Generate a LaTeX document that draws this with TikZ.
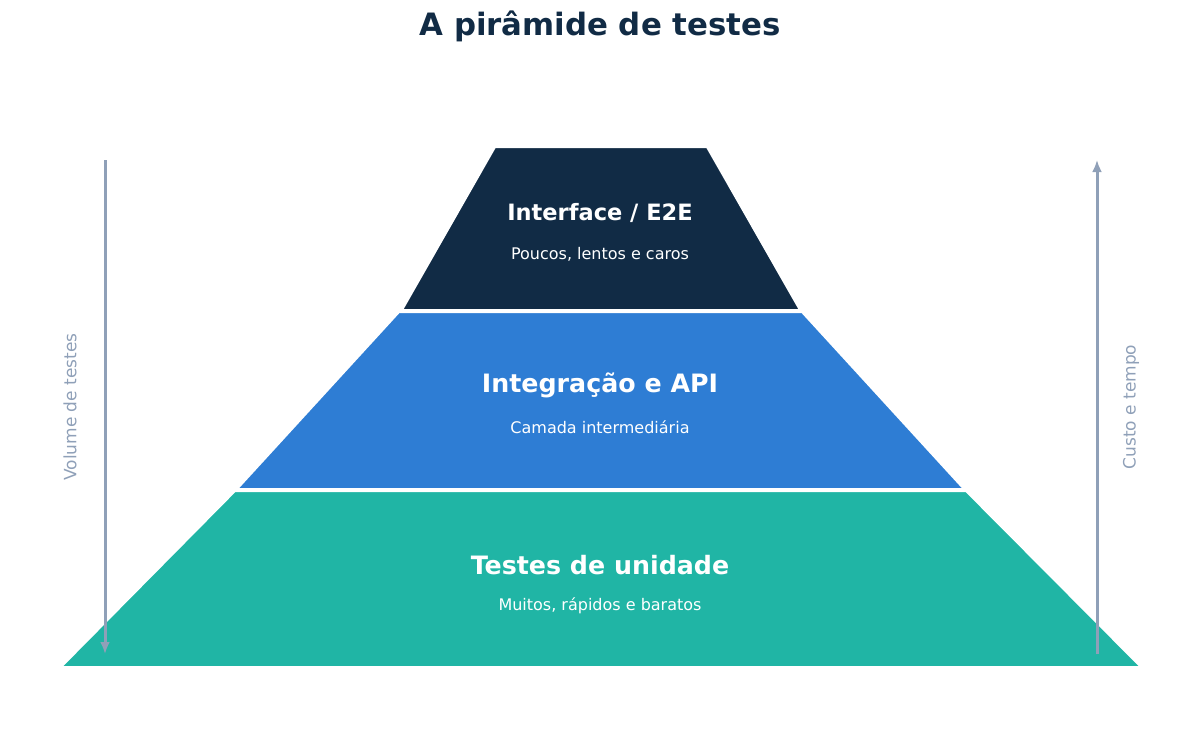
\documentclass[tikz,border=0pt]{standalone}
\usepackage{fontspec}
\setmainfont{DejaVu Sans}
\usetikzlibrary{arrows.meta, positioning}

\definecolor{navy}{HTML}{112B45}
\definecolor{azul}{HTML}{2E7DD4}
\definecolor{verde}{HTML}{20B5A5}
\definecolor{cinza}{HTML}{8FA0B8}

\begin{document}
\begin{tikzpicture}[
  x=1pt, y=-1pt,
  camada/.style={draw=white, line width=2pt, line join=miter},
  nome/.style={text=white, font=\fontsize{22.5}{26}\selectfont\bfseries, inner sep=0pt},
  desc/.style={text=white, font=\fontsize{16}{19}\selectfont, inner sep=0pt},
  eixo/.style={text=cinza, font=\fontsize{17}{20}\selectfont, inner sep=0pt, rotate=90},
  seta/.style={draw=cinza, line width=3pt, -{Latex[length=12pt, width=10pt]}},
  >=Latex
]
\useasboundingbox (0,0) rectangle (1200,747);
% titulo
\node[text=navy, font=\fontsize{30.8}{35}\selectfont\bfseries, inner sep=0pt] (titulo) at (600,26) {A pirâmide de testes};
% camadas da piramide
\fill[verde, camada] (235,491) -- (966,491) -- (1141,667) -- (61,667) -- cycle;
\fill[azul, camada] (399,312) -- (802,312) -- (964,489) -- (237,489) -- cycle;
\fill[navy, camada] (495,147) -- (707,147) -- (800,310) -- (402,310) -- cycle;
% textos
\node[nome] (e2e) at (600,213) {Interface / E2E};
\node[desc, below=41pt of e2e.center, anchor=center] (e2eDesc) {Poucos, lentos e caros};
\node[nome, font=\fontsize{25.3}{30}\selectfont\bfseries] (api) at (600,385) {Integração e API};
\node[desc, below=42pt of api.center, anchor=center] (apiDesc) {Camada intermediária};
\node[nome, font=\fontsize{25.3}{30}\selectfont\bfseries] (unid) at (600,565) {Testes de unidade};
\node[desc, below=41pt of unid.center, anchor=center] (unidDesc) {Muitos, rápidos e baratos};
% eixos laterais
\coordinate (volTopo) at (105,160);
\coordinate (volBase) at (105,654);
\coordinate (custoBase) at (1097,654);
\coordinate (custoTopo) at (1097,160);
\draw[seta] (volTopo) -- (volBase);
\draw[seta] (custoBase) -- (custoTopo);
\node[eixo] (volume) at (70,407) {Volume de testes};
\node[eixo] (custo) at (1131,407) {Custo e tempo};
\end{tikzpicture}
\end{document}
